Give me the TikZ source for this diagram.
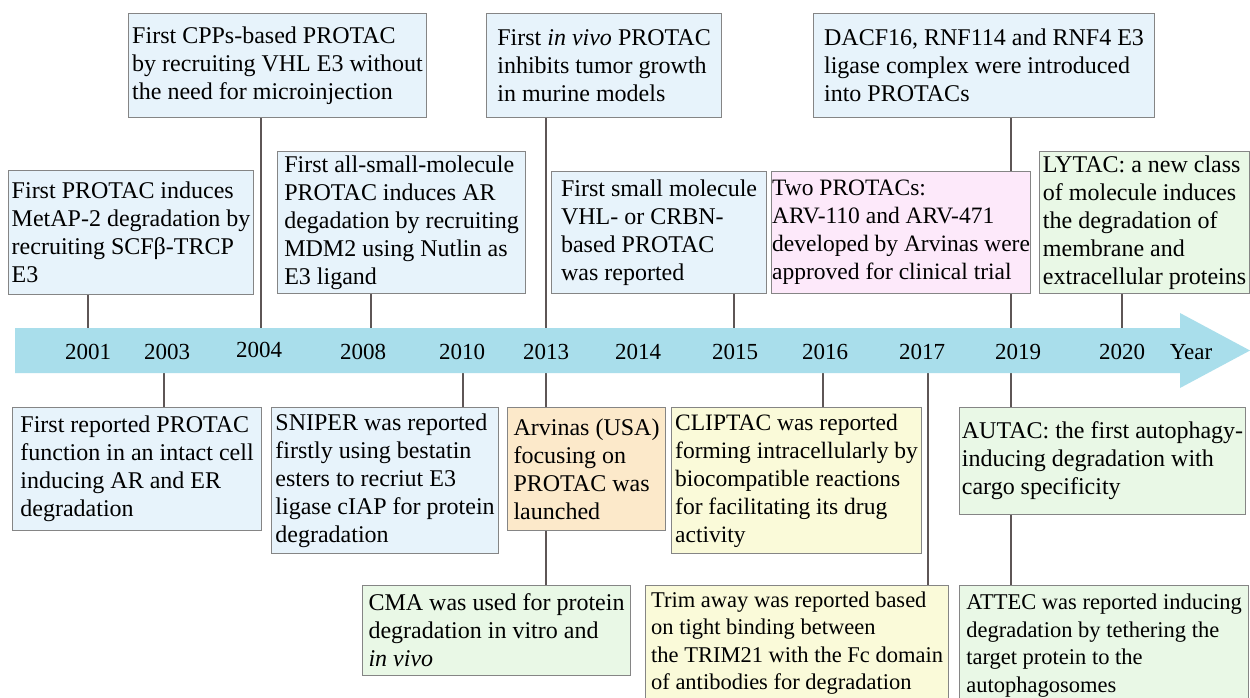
\documentclass[tikz,border=0pt]{standalone}
\usepackage{fontspec}
\setmainfont{Liberation Serif}
\definecolor{boxborder}{HTML}{858585}
\definecolor{connc}{HTML}{5E5656}
\definecolor{fblue}{HTML}{E7F3FB}
\definecolor{fpink}{HTML}{FDE9FA}
\definecolor{fgreen}{HTML}{E9F8E6}
\definecolor{fyellow}{HTML}{FAFAD9}
\definecolor{forange}{HTML}{FCE9CA}
\definecolor{arrowc}{HTML}{A9DEEB}
\pgfdeclarelayer{background}
\pgfsetlayers{background,main}
\begin{document}
\begin{tikzpicture}[x=1pt,y=-1pt,
  evbox/.style={draw=boxborder, line width=1.1pt, inner sep=0pt, align=left,
    anchor=north west, font=\fontsize{24}{28}\selectfont},
  midbox/.style={font=\fontsize{23.5}{28}\selectfont},
  smallbox/.style={font=\fontsize{22.5}{27.5}\selectfont},
  conn/.style={draw=connc, line width=1.4pt},
  yearlbl/.style={inner sep=0pt, font=\fontsize{23}{26}\selectfont}]
\useasboundingbox (0,0) rectangle (1250,698);
\clip (0,0) rectangle (1250,698);

% anchor coordinates on the timeline arrow
\coordinate (t2001) at (88,328);
\coordinate (t2004) at (261,328);
\coordinate (t2008) at (371,328);
\coordinate (t2013) at (546,328);
\coordinate (t2015) at (734,328);
\coordinate (t2019) at (1011,328);
\coordinate (t2020) at (1122,328);
\coordinate (u2003) at (164,373);
\coordinate (u2010) at (463,373);
\coordinate (u2013) at (546,373);
\coordinate (u2016) at (823,373);
\coordinate (u2017) at (928,373);
\coordinate (u2019) at (1011,373);

% boxes above
\path (128,13) node[evbox, fill=fblue, minimum width=298pt, minimum height=104pt] (b1)
  {First CPPs-based PROTAC\\by recruiting VHL E3 without\\the need for microinjection};
\path (8,170) node[evbox, fill=fblue, minimum width=245pt, minimum height=124pt] (b2)
  {First PROTAC induces\\MetAP-2 degradation by\\recruiting SCFβ-TRCP\\E3};
\path (277,151) node[evbox, fill=fblue, minimum width=248pt, minimum height=142pt] (b3)
  {First all-small-molecule\\PROTAC induces AR\\degadation by recruiting\\MDM2 using Nutlin as\\E3 ligand};
\path (486,13) node[evbox, fill=fblue, minimum width=235pt, minimum height=104pt] (b4)
  {First \textit{in vivo} PROTAC\\inhibits tumor growth\\in murine models};
\path (551,171) node[evbox, fill=fblue, minimum width=215pt, minimum height=122pt] (b5)
  {First small molecule\\VHL- or CRBN-\\based PROTAC\\was reported};
\path (813,13) node[evbox, fill=fblue, minimum width=341pt, minimum height=104pt] (b6)
  {DACF16, RNF114 and RNF4 E3\\ligase complex were introduced\\into PROTACs};
\path (771,171) node[evbox, midbox, fill=fpink, minimum width=259pt, minimum height=122pt] (b7)
  {Two PROTACs:\\ARV-110 and ARV-471\\developed by Arvinas were\\approved for clinical trial};
\path (1039,151) node[evbox, fill=fgreen, minimum width=210pt, minimum height=142pt] (b8)
  {LYTAC: a new class\\of molecule induces\\the degradation of\\membrane and\\extracellular proteins};

% boxes below
\path (12,407) node[evbox, fill=fblue, minimum width=249pt, minimum height=123pt] (c1)
  {First reported PROTAC\\function in an intact cell\\inducing AR and ER\\degradation};
\path (271,407) node[evbox, fill=fblue, minimum width=227pt, minimum height=146pt] (c2)
  {SNIPER was reported\\firstly using bestatin\\esters to recriut E3\\ligase cIAP for protein\\degradation};
\path (507,407) node[evbox, fill=forange, minimum width=158pt, minimum height=123pt] (c3)
  {Arvinas (USA)\\focusing on\\PROTAC was\\launched};
\path (362,585) node[evbox, fill=fgreen, minimum width=268pt, minimum height=90pt] (c4)
  {CMA was used for protein\\degradation in vitro and\\\textit{in vivo}};
\path (671,407) node[evbox, midbox, fill=fyellow, minimum width=250pt, minimum height=146pt] (c5)
  {CLIPTAC was reported\\forming intracellularly by\\biocompatible reactions\\for facilitating its drug\\activity};
\path (645,585) node[evbox, smallbox, fill=fyellow, minimum width=303pt, minimum height=115pt] (c6)
  {Trim away was reported based\\on tight binding between\\the TRIM21 with the Fc domain\\of antibodies for degradation};
\path (959,407) node[evbox, fill=fgreen, minimum width=286pt, minimum height=107pt] (c7)
  {AUTAC: the first autophagy-\\inducing degradation with\\cargo specificity};
\path (959,585) node[evbox, smallbox, fill=fgreen, minimum width=289pt, minimum height=120pt] (c8)
  {ATTEC was reported inducing\\degradation by tethering the\\target protein to the\\autophagosomes};

\begin{pgfonlayer}{background}
  \fill[white] (0,0) rectangle (1250,698);
  % connectors
  \draw[conn] (t2001) -- (t2001 |- b2.south);
  \draw[conn] (t2004) -- (t2004 |- b1.south);
  \draw[conn] (t2008) -- (t2008 |- b3.south);
  \draw[conn] (t2013) -- (t2013 |- b4.south);
  \draw[conn] (t2015) -- (t2015 |- b5.south);
  \draw[conn] (t2019) -- (t2019 |- b6.south);
  \draw[conn] (t2020) -- (t2020 |- b8.south);
  \draw[conn] (u2003) -- (u2003 |- c1.north);
  \draw[conn] (u2010) -- (u2010 |- c2.north);
  \draw[conn] (u2013) -- (u2013 |- c3.north);
  \draw[conn] (u2013 |- c3.south) -- (u2013 |- c4.north);
  \draw[conn] (u2016) -- (u2016 |- c5.north);
  \draw[conn] (u2017) -- (u2017 |- c6.north);
  \draw[conn] (u2019) -- (u2019 |- c7.north);
  \draw[conn] (u2019 |- c7.south) -- (u2019 |- c8.north);
  % timeline arrow
  \fill[arrowc] (15,328) -- (1180,328) -- (1180,313) -- (1250,350.5)
    -- (1180,388) -- (1180,373) -- (15,373) -- cycle;
\end{pgfonlayer}

% year labels
\node[yearlbl] (y2001) at (88,352) {2001};
\node[yearlbl] (y2003) at (167,352) {2003};
\node[yearlbl] (y2004) at (259,350) {2004};
\node[yearlbl] (y2008) at (363,352) {2008};
\node[yearlbl] (y2010) at (462,352) {2010};
\node[yearlbl] (y2013) at (546,352) {2013};
\node[yearlbl] (y2014) at (638,352) {2014};
\node[yearlbl] (y2015) at (735,352) {2015};
\node[yearlbl] (y2016) at (825,352) {2016};
\node[yearlbl] (y2017) at (922,352) {2017};
\node[yearlbl] (y2019) at (1018,352) {2019};
\node[yearlbl] (y2020) at (1122,352) {2020};
\node[yearlbl] (yyear) at (1191,352) {Year};
\end{tikzpicture}
\end{document}
